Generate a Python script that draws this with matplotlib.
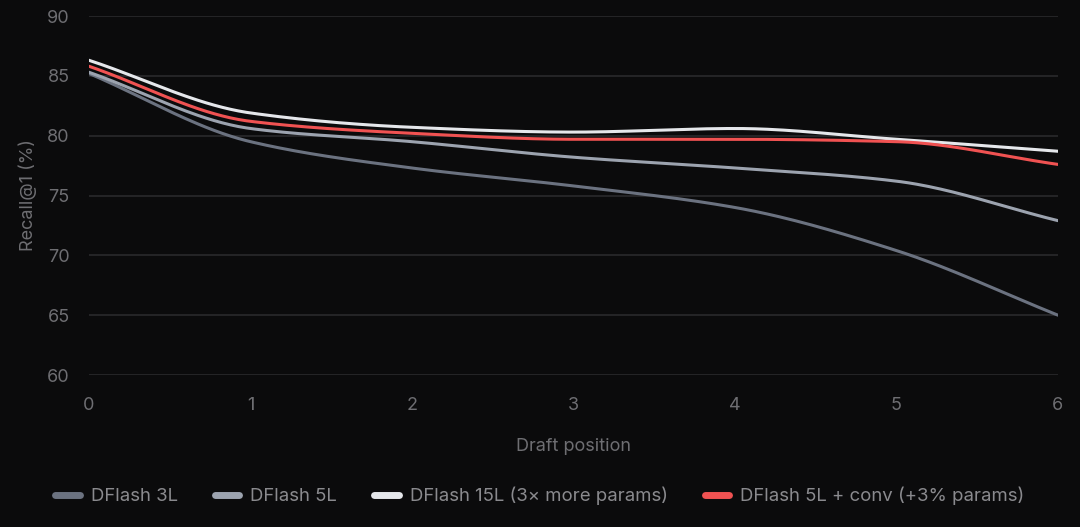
import numpy as np
import matplotlib
matplotlib.use('Agg')
import matplotlib.pyplot as plt
from matplotlib.lines import Line2D


# data
positions = [0, 1, 2, 3, 4, 5, 6]
dflash_3l = [85.2, 79.5, 77.3, 75.8, 74.0, 70.4, 65.0]
dflash_5l = [85.3, 80.6, 79.5, 78.2, 77.3, 76.2, 72.9]
dflash_15l = [86.3, 81.9, 80.7, 80.3, 80.6, 79.7, 78.7]
dflash_conv = [85.8, 81.2, 80.2, 79.7, 79.7, 79.5, 77.6]

labels = ['DFlash 3L', 'DFlash 5L', 'DFlash 15L (3\u00d7 more params)',
          'DFlash 5L + conv (+3% params)']
colors = ['#6b7280', '#9ca3af', '#e5e7eb', '#f05252']

bg = '#0b0b0c'
txt = '#6e6e72'


def monotone(x, y, n=40):
    # monotone cubic curve through the points (like the d3 "monotone" curve)
    x = np.asarray(x, float)
    y = np.asarray(y, float)
    h = np.diff(x)
    d = np.diff(y) / h
    m = np.zeros_like(y)
    m[0], m[-1] = d[0], d[-1]
    for i in range(1, len(y) - 1):
        if d[i - 1] * d[i] <= 0:
            m[i] = 0
        else:
            w1 = 2 * h[i] + h[i - 1]
            w2 = h[i] + 2 * h[i - 1]
            m[i] = (w1 + w2) / (w1 / d[i - 1] + w2 / d[i])
    xs, ys = [], []
    for i in range(len(x) - 1):
        t = np.linspace(0, 1, n, endpoint=False)
        h00 = 2 * t**3 - 3 * t**2 + 1
        h10 = t**3 - 2 * t**2 + t
        h01 = -2 * t**3 + 3 * t**2
        h11 = t**3 - t**2
        xs.append(x[i] + t * h[i])
        ys.append(h00 * y[i] + h10 * h[i] * m[i] + h01 * y[i + 1] + h11 * h[i] * m[i + 1])
    xs.append([x[-1]])
    ys.append([y[-1]])
    return np.concatenate(xs), np.concatenate(ys)


plt.rcParams['font.family'] = ['Inter', 'DejaVu Sans']

fig = plt.figure(figsize=(10.8, 5.27), dpi=100, facecolor=bg)
ax = fig.add_axes([0.0824, 0.2884, 0.8972, 0.6812])
ax.set_facecolor(bg)

for ys, c in zip([dflash_3l, dflash_5l, dflash_15l, dflash_conv], colors):
    sx, sy = monotone(positions, ys)
    ax.plot(sx, sy, color=c, lw=2.2, solid_capstyle='round', zorder=3)

ax.set_xlim(0, 6)
ax.set_ylim(60, 90)
ax.set_xticks(positions)
ax.set_yticks([60, 65, 70, 75, 80, 85, 90])
ax.grid(axis='y', color='#2a2a2c', lw=1.2)
ax.set_axisbelow(True)
for s in ax.spines.values():
    s.set_visible(False)
ax.tick_params(axis='both', length=0, labelsize=13, colors=txt)
ax.tick_params(axis='x', pad=16)
ax.tick_params(axis='y', pad=14)

ax.set_xlabel('Draft position', fontsize=13, color=txt, labelpad=17)
ax.set_ylabel('Recall@1 (%)', fontsize=13, color=txt, labelpad=7)

handles = [Line2D([], [], color=c, lw=5, solid_capstyle='round') for c in colors]
fig.legend(handles, labels, loc='center', bbox_to_anchor=(0.5, 0.059), ncol=4,
           frameon=False, fontsize=13.4, labelcolor='#8a8a8e', handlelength=1.3,
           handletextpad=0.6, columnspacing=2.0)

fig.savefig('out.png', dpi=100, facecolor=bg)
